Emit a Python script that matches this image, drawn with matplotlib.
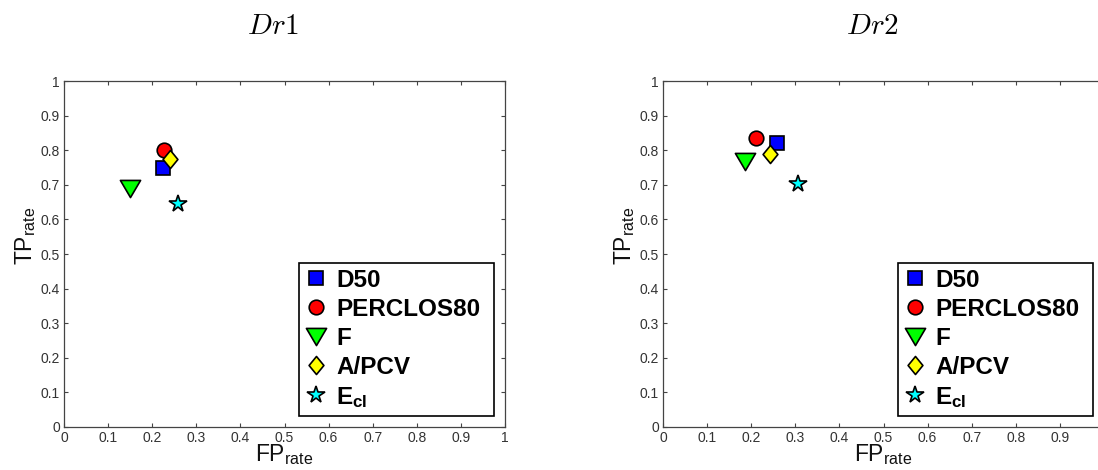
import matplotlib
matplotlib.use("Agg")
import matplotlib.pyplot as plt
from matplotlib.path import Path

plt.rcParams['font.family'] = ['Liberation Sans', 'DejaVu Sans']
plt.rcParams['mathtext.fontset'] = 'custom'
plt.rcParams['mathtext.rm'] = 'Liberation Sans'
plt.rcParams['mathtext.bf'] = 'Liberation Sans:bold'
plt.rcParams['mathtext.it'] = 'Liberation Sans:italic'

# ---- data ----
categories = ['D50', 'PERCLOS80', 'F', 'A/PCV', r'E$_{\mathbf{cl}}$']
colors = ['#0000FF', '#FF0000', '#00FF00', '#FFFF00', '#00FFFF']
dr1_fp = [0.225, 0.227, 0.149, 0.241, 0.259]
dr1_tp = [0.748, 0.802, 0.690, 0.774, 0.644]
dr2_fp = [0.258, 0.212, 0.185, 0.242, 0.305]
dr2_tp = [0.820, 0.834, 0.768, 0.790, 0.701]
titles = [r'$Dr1$', r'$Dr2$']
ticks = [0, 0.1, 0.2, 0.3, 0.4, 0.5, 0.6, 0.7, 0.8, 0.9, 1]
tick_labels = ['0', '0.1', '0.2', '0.3', '0.4', '0.5', '0.6', '0.7', '0.8', '0.9', '1']

tri = Path([(-1, 0.8), (1, 0.8), (0, -0.9), (-1, 0.8)],
           [Path.MOVETO, Path.LINETO, Path.LINETO, Path.CLOSEPOLY])
dia = Path([(0, 1), (0.82, 0), (0, -1), (-0.82, 0), (0, 1)],
           [Path.MOVETO, Path.LINETO, Path.LINETO, Path.LINETO, Path.CLOSEPOLY])
markers = ['s', 'o', tri, dia, '*']
msizes = [10.5, 10.5, 14.5, 13, 13]

W, H = 1098, 470
fig = plt.figure(figsize=(W / 100, H / 100), dpi=100)
ax_w, ax_h = 441 / W, 346 / H
ax_y = (H - 427) / H
lefts = [64 / W, 663 / W]
datasets = [(dr1_fp, dr1_tp), (dr2_fp, dr2_tp)]

for k in range(2):
    ax = fig.add_axes([lefts[k], ax_y, ax_w, ax_h])
    fp, tp = datasets[k]
    handles = []
    for i in range(len(categories)):
        h, = ax.plot(fp[i], tp[i], linestyle='none', marker=markers[i],
                     markersize=msizes[i], markerfacecolor=colors[i],
                     markeredgecolor='black', markeredgewidth=1.2,
                     label=categories[i], zorder=3)
        handles.append(h)
    ax.set_xlim(0, 1)
    ax.set_ylim(0, 1)
    ax.set_xticks(ticks)
    ax.set_xticklabels(tick_labels)
    ax.set_yticks(ticks)
    ax.set_yticklabels(tick_labels)
    ax.tick_params(direction='in', length=3, width=0.8, top=True, right=True,
                   labelsize=10, colors='#444444', labelcolor='#333333', pad=3)
    for s in ax.spines.values():
        s.set_color('#444444')
        s.set_linewidth(0.9)
    ax.text(-0.088, 0.552, r'TP$_{\mathrm{rate}}$', transform=ax.transAxes,
            rotation=90, ha='center', va='center', fontsize=16.5, color='#111111')
    ax.text(0.5, -0.081, r'FP$_{\mathrm{rate}}$', transform=ax.transAxes,
            ha='center', va='center', fontsize=16.5, color='#111111')
    ax.text(0.474, 1.158, titles[k], transform=ax.transAxes, ha='center',
            va='center', fontsize=21, math_fontfamily='cm')
    leg = ax.legend(handles=handles, loc='lower left',
                    bbox_to_anchor=(0.533, 0.032, 0.442, 0.436), mode='expand',
                    borderaxespad=0, handlelength=0.86, handletextpad=0.41,
                    borderpad=0.25, labelspacing=0.25,
                    prop={'weight': 'bold', 'size': 17.5},
                    fancybox=False, framealpha=1, edgecolor='black')
    leg.get_frame().set_linewidth(1.2)

fig.savefig('out.png', dpi=100)
